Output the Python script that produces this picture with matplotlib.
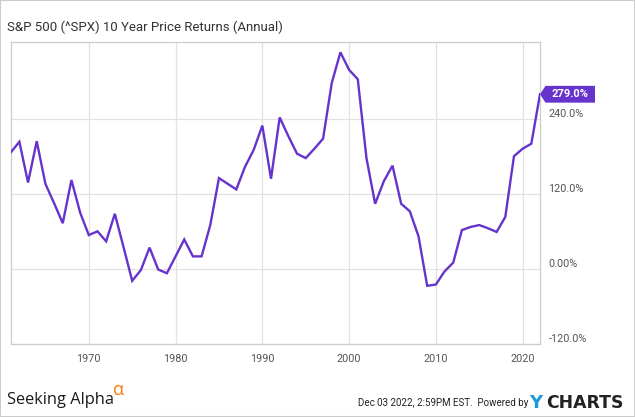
import matplotlib
matplotlib.use("Agg")
import matplotlib.pyplot as plt
from matplotlib.patches import Polygon, Rectangle

# S&P 500 10 year price return, one point per year
years = list(range(1961, 2023))
returns = [186, 203, 138, 204, 136, 105, 73, 142, 90, 54,
           60, 44, 88, 35, -19, -2, 34, -1, -7, 20,
           47, 20, 20, 70, 145, 136, 127, 163, 190, 229,
           144, 242, 212, 184, 177, 192, 208, 297, 346, 318,
           303, 177, 104, 140, 165, 104, 92, 52, -27, -25,
           -4, 10, 62, 67, 70, 65, 59, 83, 180, 192,
           200, 279]
x_ticks = [1970, 1980, 1990, 2000, 2010, 2020]
y_ticks = [-120, 0, 120, 240]
y_labels = ["-120.0%", "0.00%", "120.0%", "240.0%"]
last_label = "279.0%"

purple = "#6633cc"
W, H = 635, 417

plt.rcParams['font.family'] = ['Roboto', 'DejaVu Sans']
fig = plt.figure(figsize=(W / 100, H / 100), dpi=100)
ax = fig.add_axes([10.7 / W, (H - 344) / H, (540 - 10.7) / W, (344 - 42.3) / H])

ax.plot(years, returns, color=purple, linewidth=1.7, solid_joinstyle='miter', zorder=3)
ax.set_xlim(1961, 2022)
ax.set_ylim(-120, 362)

ax.set_xticks(x_ticks)
ax.set_xticklabels([str(y) for y in x_ticks])
ax.set_yticks(y_ticks)
ax.set_yticklabels(y_labels)
ax.yaxis.tick_right()
ax.tick_params(axis='both', length=0, labelsize=7.8, labelcolor='#555555')
ax.tick_params(axis='x', pad=7.5)
ax.tick_params(axis='y', pad=6)
for lab in ax.get_yticklabels():
    lab.set_verticalalignment('bottom')
    lab.set_horizontalalignment('left')

ax.grid(True, color='#e2e2e2', linewidth=0.9, zorder=0)
for s in ax.spines.values():
    s.set_color('#cccccc')
    s.set_linewidth(0.9)

# value tag on the last point
fig.canvas.draw()
px, py = ax.transData.transform((years[-1], returns[-1]))
to_fig = fig.transFigure.inverted()
tag = [(px, py), (px + 5.5, py + 8.4), (px + 55, py + 8.4), (px + 55, py - 8.4), (px + 5.5, py - 8.4)]
tag = [to_fig.transform(p) for p in tag]
fig.patches.append(Polygon(tag, closed=True, transform=fig.transFigure, facecolor=purple,
                           edgecolor='none', figure=fig, zorder=5))
tx, ty = to_fig.transform((px + 30.5, py))
fig.text(tx, ty, last_label, color='white', fontsize=8, fontweight='bold',
         ha='center', va='center', zorder=6)

fig.text(7 / W, 1 - 27 / H, "S&P 500 (^SPX) 10 Year Price Returns (Annual)",
         fontsize=9.5, color='#333333', va='center', ha='left')

# footer
fig.text(7 / W, 1 - 404 / H, "Seeking Alpha", family='Open Sans', fontsize=11.8,
         color='#1a1a1a', va='baseline', ha='left')
fig.text(113 / W, 1 - 390 / H, "\u03b1", family='Open Sans', fontsize=13,
         color='#ff7a00', va='center', ha='left')
fig.text(528 / W, 1 - 406 / H, "Dec 03 2022, 2:59PM EST.  Powered by", fontsize=7.0,
         color='#222222', va='baseline', ha='right')
fig.text(529.5 / W, 1 - 407.5 / H, "Y", family='DejaVu Sans', fontsize=13, fontweight='bold',
         color='#1a9ad6', va='baseline', ha='left')
fig.text(546.5 / W, 1 - 407.5 / H, "CHARTS", family='DejaVu Sans', fontsize=12.4,
         fontweight='bold', color='#222222', va='baseline', ha='left')

fig.patches.append(Rectangle((0, 0), 1, 1, transform=fig.transFigure, fill=False,
                             edgecolor='#cccccc', linewidth=1.5, figure=fig))

fig.savefig("out.png", dpi=100)
